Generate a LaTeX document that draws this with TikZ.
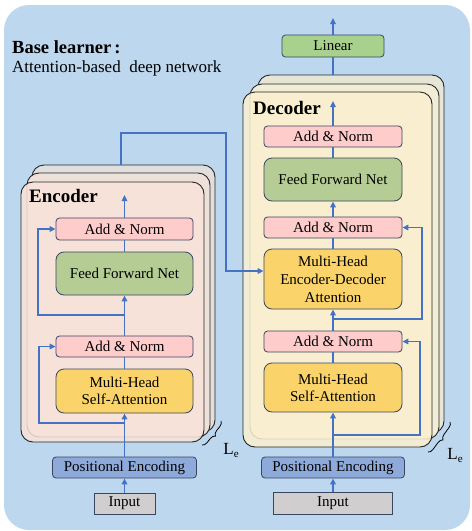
\documentclass[tikz,border=0pt]{standalone}
\usepackage{fontspec}
\setmainfont{Liberation Serif}
\usetikzlibrary{arrows.meta,decorations.pathreplacing,calc}
\definecolor{bgblue}{HTML}{BDD7EE}
\definecolor{bd}{HTML}{3A4660}
\definecolor{arr}{HTML}{4472C4}
\definecolor{pinkc}{HTML}{FFCCCC}
\definecolor{greenc}{HTML}{B5CC95}
\definecolor{lingreen}{HTML}{A9D18E}
\definecolor{yellowc}{HTML}{FAD46B}
\definecolor{pec}{HTML}{8EAADB}
\definecolor{inpc}{HTML}{D0CECE}
\definecolor{encfront}{HTML}{F8E3D8}
\definecolor{encmid}{HTML}{EDE1DA}
\definecolor{encback}{HTML}{E1DFDD}
\definecolor{decfront}{HTML}{FBF0D0}
\definecolor{decmid}{HTML}{F1EDD6}
\definecolor{decback}{HTML}{E6E6D6}
\begin{document}
\begin{tikzpicture}[x=1pt,y=-1pt,
  box/.style={draw=bd, line width=0.8pt, rounded corners=3.5pt, inner sep=0pt, align=center, font=\fontsize{15}{17}\selectfont, text=black},
  big/.style={box, rounded corners=8pt},
  fl/.style={draw=arr, line width=1.4pt},
  ar/.style={fl, -{Triangle[length=6pt,width=5.5pt]}},
  stk/.style={draw=black!85, line width=0.9pt, rounded corners=12pt},
  lbl/.style={anchor=west, inner sep=0pt, text=black},
  brc/.style={draw=black, line width=0.8pt, decorate, decoration={brace, amplitude=5pt}},
]
\useasboundingbox (0,0) rectangle (472,531);
\fill[bgblue, rounded corners=25pt] (4,5) rectangle (470,530);

% titles
\node[lbl, font=\fontsize{18.5}{20}\selectfont\bfseries] (title) at (12,47) {Base learner\,:};
\node[lbl, font=\fontsize{17}{18}\selectfont] (sub) at (12,68) {Attention-based\ \ deep network};

% encoder stack
\path[stk, fill=encback] (32,165) rectangle (215,432);
\path[stk, fill=encmid] (27,173) rectangle (210,437);
\path[stk, fill=encfront, fill opacity=0.85] (21,182) rectangle (204,442);
% decoder stack
\path[stk, fill=decback] (258,75) rectangle (444,433);
\path[stk, fill=decmid] (250,84) rectangle (439,439);
\path[stk, fill=decfront, fill opacity=0.85] (243,92) rectangle (432,447);

\node[lbl, font=\fontsize{19}{20}\selectfont\bfseries] (enclbl) at (29,196) {Encoder};
\node[lbl, font=\fontsize{19}{20}\selectfont\bfseries] (declbl) at (253,108) {Decoder};

% encoder nodes
\node[box, fill=pinkc, minimum width=137pt, minimum height=22pt] (eAN2) at (124.5,229) {Add \& Norm};
\node[big, fill=greenc, minimum width=137pt, minimum height=43pt] (eFFN) at (124.5,273.5) {Feed Forward Net};
\node[box, fill=pinkc, minimum width=137pt, minimum height=21pt] (eAN1) at (124.5,346.5) {Add \& Norm};
\node[big, fill=yellowc, minimum width=137pt, minimum height=44pt] (eMHA) at (124.5,391) {Multi-Head\\Self-Attention};
\node[box, fill=pec, minimum width=144pt, minimum height=21pt] (ePE) at (124.5,467.5) {Positional Encoding};
\node[box, fill=inpc, rounded corners=0pt, minimum width=61pt, minimum height=21pt] (eIn) at (124.5,503.5) {Input};

% decoder nodes
\node[box, fill=lingreen, minimum width=102pt, minimum height=22pt] (lin) at (333,46) {Linear};
\node[box, fill=pinkc, minimum width=138pt, minimum height=21pt] (dAN3) at (333,136.5) {Add \& Norm};
\node[big, fill=greenc, minimum width=138pt, minimum height=43pt] (dFFN) at (333,179.5) {Feed Forward Net};
\node[box, fill=pinkc, minimum width=138pt, minimum height=21pt] (dAN2) at (333,227.5) {Add \& Norm};
\node[big, fill=yellowc, minimum width=138pt, minimum height=60pt, font=\fontsize{15}{18}\selectfont] (dEDA) at (333,279) {Multi-Head\\Encoder-Decoder\\Attention};
\node[box, fill=pinkc, minimum width=138pt, minimum height=21pt] (dAN1) at (333,341.5) {Add \& Norm};
\node[big, fill=yellowc, minimum width=138pt, minimum height=49pt] (dMHA) at (333,387.5) {Multi-Head\\Self-Attention};
\node[box, fill=pec, minimum width=143pt, minimum height=21pt] (dPE) at (333,467.5) {Positional Encoding};
\node[box, fill=inpc, rounded corners=0pt, minimum width=119pt, minimum height=22pt] (dIn) at (333,503) {Input};

% encoder connectors
\coordinate (eb1) at (124.5,423);
\coordinate (eb2) at (124.5,315);
\coordinate (eout) at (124.5,195);
\coordinate (etop) at (121,165);
\draw[ar] (eIn.north) -- (ePE.south);
\draw[ar] (ePE.north) -- (eMHA.south);
\draw[ar] (eb1) -- (39,423) |- (eAN1.west);
\draw[fl] (eMHA.north) -- (eAN1.south);
\draw[ar] (eAN1.north) -- (eFFN.south);
\draw[ar] (eb2) -- (38,315) |- (eAN2.west);
\draw[fl] (eFFN.north) -- (eAN2.south);
\draw[ar] (eAN2.north) -- (eout);
\draw[ar] (etop) -- (121,133) -- (226,133) |- ($(dEDA.west)+(0,-8)$);

% decoder connectors
\coordinate (db1) at (333,435);
\coordinate (db2) at (333,319);
\coordinate (dout) at (333,101);
\coordinate (dtop) at (333,75);
\coordinate (fin) at (333,18);
\draw[ar] (dIn.north) -- (dPE.south);
\draw[ar] (dPE.north) -- (dMHA.south);
\draw[ar] (db1) -- (420,435) |- (dAN1.east);
\draw[fl] (dMHA.north) -- (dAN1.south);
\draw[ar] (dAN1.north) -- (dEDA.south);
\draw[ar] (db2) -- (422,319) |- (dAN2.east);
\draw[fl] (dEDA.north) -- (dAN2.south);
\draw[ar] (dAN2.north) -- (dFFN.south);
\draw[fl] (dFFN.north) -- (dAN3.south);
\draw[ar] (dAN3.north) -- (dout);
\draw[fl] (dtop) -- (lin.south);
\draw[ar] (lin.north) -- (fin);

% braces
\draw[brc] (221,421) -- (202,445);
\draw[brc] (450,422) -- (428,452);
\node[inner sep=0pt, font=\fontsize{17}{18}\selectfont] (le1) at (231,450) {L\raisebox{-3pt}{\fontsize{11}{11}\selectfont e}};
\node[inner sep=0pt, font=\fontsize{17}{18}\selectfont] (le2) at (455,455) {L\raisebox{-3pt}{\fontsize{11}{11}\selectfont e}};
\end{tikzpicture}
\end{document}
